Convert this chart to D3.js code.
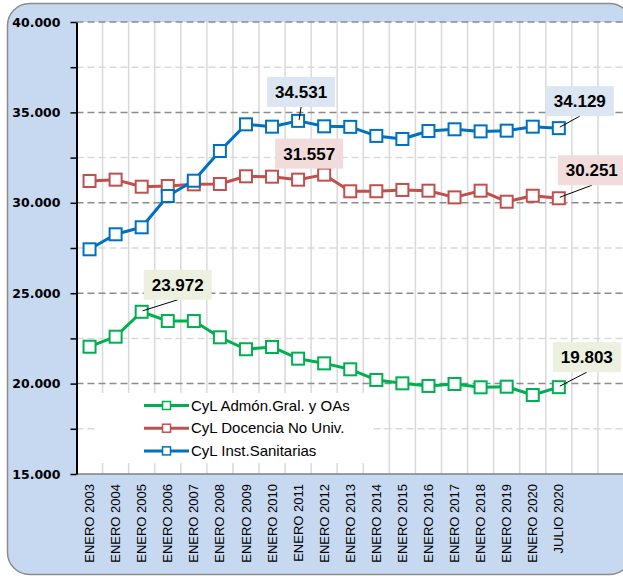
<!DOCTYPE html>
<html>
<head>
<meta charset="utf-8">
<script src="https://d3js.org/d3.v7.min.js"></script>
<style>
  body { margin: 0; background: #fff; }
  svg { display: block; }
  .ylab { font: bold 12.5px "DejaVu Sans", sans-serif; }
  .xlab { font: 13px "Liberation Sans", Arial, sans-serif; }
  .leg { font: 15px "Liberation Sans", Arial, sans-serif; }
  .call { font: bold 17px "Liberation Sans", Arial, sans-serif; }
</style>
</head>
<body>
<svg width="623" height="576" id="chart"></svg>
<script>
  // data
  var categories = ["ENERO 2003", "ENERO 2004", "ENERO 2005", "ENERO 2006", "ENERO 2007",
    "ENERO 2008", "ENERO 2009", "ENERO 2010", "ENERO 2011", "ENERO 2012", "ENERO 2013",
    "ENERO 2014", "ENERO 2015", "ENERO 2016", "ENERO 2017", "ENERO 2018", "ENERO 2019",
    "ENERO 2020", "JULIO 2020"]
  var admon = [22040, 22594, 23972, 23460, 23460, 22560, 21900, 22025, 21380, 21120,
    20790, 20200, 20015, 19870, 19980, 19795, 19830, 19370, 19803]
  var docencia = [31206, 31280, 30890, 30930, 31020, 31040, 31465, 31445, 31280, 31557,
    30636, 30640, 30710, 30670, 30300, 30670, 30060, 30390, 30251]
  var sanitarias = [27428, 28258, 28645, 30376, 31222, 32865, 34340, 34210, 34531, 34230,
    34200, 33700, 33530, 33970, 34065, 33950, 33990, 34210, 34129]
  var seriesNames = ["CyL Admón.Gral. y OAs", "CyL Docencia No Univ.", "CyL Inst.Sanitarias"]
  var yTicks = [15000, 20000, 25000, 30000, 35000, 40000]
  var yMinor = [17500, 22500, 27500, 32500, 37500]

  var colors = ["#00b050", "#c0504d", "#0070c0"]
  var series = [admon, docencia, sanitarias]

  var svg = d3.select('#chart')
  var fmt = d3.formatLocale({decimal: ",", thousands: ".", grouping: [3], currency: ["", ""]}).format(",d")

  // plot box (note: "top" is taken by window.top, so use other names)
  var pL = 76.5, pR = 624, pT = 22, pB = 474
  // two empty slots after the last category, like the original
  var x = d3.scaleBand().domain(d3.range(categories.length + 2)).range([pL, pR])
  var y = d3.scaleLinear().domain([15000, 40000]).range([pB, pT])
  var cx = function(i) { return x(i) + x.bandwidth() / 2 }

  // outer rounded panel
  svg.append('rect')
    .attr('x', 7.5).attr('y', 3.5).attr('width', 624).attr('height', 571)
    .attr('rx', 22).attr('ry', 22)
    .attr('fill', '#c6d9f0').attr('stroke', '#8c8c8c').attr('stroke-width', 1.5)

  // plot area
  svg.append('rect')
    .attr('x', pL).attr('y', pT).attr('width', pR - pL).attr('height', pB - pT)
    .attr('fill', '#fff')

  // vertical gridlines at band edges
  svg.append('g').selectAll('line')
    .data(d3.range(1, categories.length + 2))
    .enter().append('line')
    .attr('x1', function(d) { return x(d) }).attr('x2', function(d) { return x(d) })
    .attr('y1', pT).attr('y2', pB)
    .attr('stroke', '#d9d9d9').attr('stroke-width', 1.5)

  // horizontal gridlines
  svg.append('g').selectAll('line')
    .data(yMinor)
    .enter().append('line')
    .attr('x1', pL).attr('x2', pR)
    .attr('y1', function(d) { return y(d) }).attr('y2', function(d) { return y(d) })
    .attr('stroke', '#d9d9d9').attr('stroke-width', 1.5).attr('stroke-dasharray', '7,4')
  svg.append('g').selectAll('line')
    .data(yTicks.slice(1))
    .enter().append('line')
    .attr('x1', pL).attr('x2', pR)
    .attr('y1', function(d) { return y(d) }).attr('y2', function(d) { return y(d) })
    .attr('stroke', '#8c8c8c').attr('stroke-width', 1.5).attr('stroke-dasharray', '7,4')

  // x axis line
  svg.append('line')
    .attr('x1', pL).attr('x2', pR).attr('y1', pB).attr('y2', pB)
    .attr('stroke', '#7f7f7f').attr('stroke-width', 1.5)

  // y axis
  var yAxis = d3.axisLeft(y)
    .tickValues(yTicks.concat(yMinor))
    .tickSize(6)
    .tickSizeOuter(0)
    .tickFormat(function(d) { return yTicks.indexOf(d) >= 0 ? fmt(d) : '' })
  var ya = svg.append('g').attr('transform', 'translate(' + pL + ',0)').call(yAxis)
  ya.attr('font-family', null).attr('font-size', null)
  ya.select('.domain').attr('stroke', '#000').attr('stroke-width', 2)
  ya.selectAll('.tick line').attr('stroke', '#000').attr('stroke-width', 1.5)
  ya.selectAll('.tick text').attr('class', 'ylab').attr('fill', '#000').attr('x', -16)

  // x labels, rotated
  svg.append('g').selectAll('text')
    .data(categories)
    .enter().append('text')
    .attr('class', 'xlab')
    .attr('transform', function(d, i) { return 'translate(' + cx(i) + ',' + (pB + 10) + ')rotate(-90)' })
    .attr('text-anchor', 'end')
    .attr('dy', '0.35em')
    .attr('fill', '#000')
    .text(function(d) { return d })

  // lines and markers
  var line = d3.line().x(function(d, i) { return cx(i) }).y(function(d) { return y(d) })
  series.forEach(function(s, k) {
    svg.append('path')
      .attr('d', line(s))
      .attr('fill', 'none').attr('stroke', colors[k]).attr('stroke-width', 3)
      .attr('stroke-linejoin', 'round')
    svg.append('g').selectAll('rect')
      .data(s)
      .enter().append('rect')
      .attr('x', function(d, i) { return cx(i) - 6 })
      .attr('y', function(d) { return y(d) - 6 })
      .attr('width', 12).attr('height', 12)
      .attr('fill', '#fff').attr('stroke', colors[k]).attr('stroke-width', 2)
  })

  // legend
  var leg = svg.append('g')
  leg.append('rect')
    .attr('x', 97).attr('y', 393).attr('width', 272).attr('height', 70)
    .attr('fill', '#fff')
  seriesNames.forEach(function(name, k) {
    var ly = 405.5 + k * 22.7
    leg.append('line').attr('x1', 144).attr('x2', 189).attr('y1', ly).attr('y2', ly)
      .attr('stroke', colors[k]).attr('stroke-width', 3)
    leg.append('rect').attr('x', 162.5).attr('y', ly - 4).attr('width', 8).attr('height', 8)
      .attr('fill', '#fff').attr('stroke', colors[k]).attr('stroke-width', 1.5)
    leg.append('text').attr('class', 'leg').attr('x', 191).attr('y', ly).attr('dy', '0.35em')
      .attr('fill', '#000').text(name)
  })

  // callouts: series, index, box offset, box fill, leader
  var callouts = [
    {s: 2, i: 8, dx: 3, dy: -29, fill: '#dce6f2', lead: true},
    {s: 1, i: 9, dx: -15, dy: -21, fill: '#f2dcdb', lead: false},
    {s: 2, i: 18, dx: 21, dy: -27, fill: '#dce6f2', lead: true},
    {s: 1, i: 18, dx: 33, dy: -28, fill: '#f2dcdb', lead: true},
    {s: 0, i: 2, dx: 36, dy: -27, fill: '#ebf1de', lead: true},
    {s: 0, i: 18, dx: 28, dy: -30, fill: '#ebf1de', lead: true}
  ]
  callouts.forEach(function(c) {
    var px = cx(c.i), py = y(series[c.s][c.i])
    var bx = px + c.dx, by = py + c.dy
    var g = svg.append('g')
    if (c.lead) {
      g.append('line')
        .attr('x1', px + 1).attr('y1', py - 1)
        .attr('x2', bx).attr('y2', by + 15)
        .attr('stroke', '#000').attr('stroke-width', 1)
    }
    g.append('rect')
      .attr('x', bx - 34).attr('y', by - 15).attr('width', 68).attr('height', 30)
      .attr('fill', c.fill)
    g.append('text').attr('class', 'call')
      .attr('x', bx).attr('y', by).attr('dy', '0.36em')
      .attr('text-anchor', 'middle').attr('fill', '#000')
      .text(fmt(series[c.s][c.i]))
  })
</script>
</body>
</html>
